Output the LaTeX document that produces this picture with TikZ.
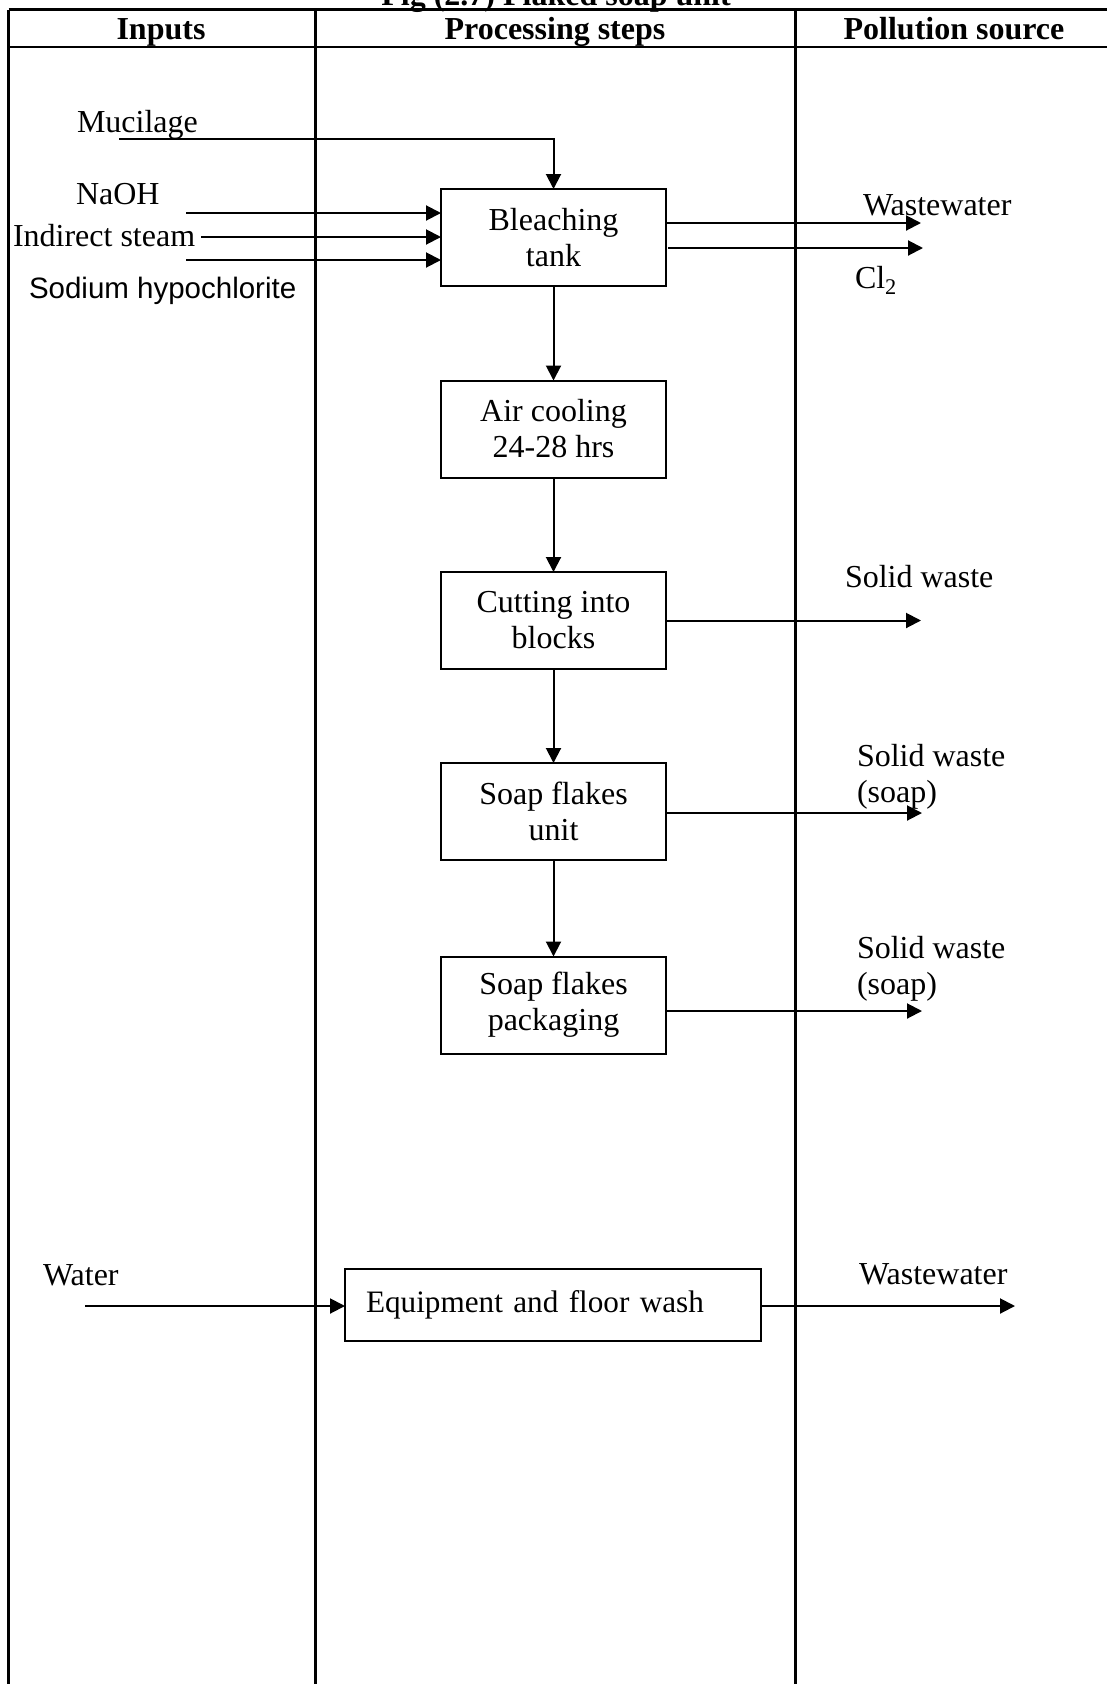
\documentclass[tikz,border=0pt]{standalone}
\usepackage{fontspec}
\setmainfont{Liberation Serif}
\newfontfamily\arialfont{Liberation Sans}
\usetikzlibrary{arrows.meta}
\begin{document}
\begin{tikzpicture}[x=1pt,y=-1pt,
  every node/.style={inner sep=0pt, outer sep=0pt},
  txt/.style={font=\fontsize{32}{36}\selectfont},
  hdr/.style={font=\fontsize{32}{36}\selectfont\bfseries},
  stepbox/.style={draw, line width=2pt, minimum width=225pt, minimum height=97pt,
    align=center, font=\fontsize{32}{36}\selectfont},
  flow/.style={line width=2pt, -{Triangle[length=15pt,width=15pt]}},
  rule/.style={line width=2.3pt}]
\useasboundingbox (0,0) rectangle (1107,1684);

% table frame: header band and three columns
\draw[rule] (8.5,9.5) -- (1130,9.5);
\draw[rule] (8.5,47) -- (1130,47);
\draw[rule] (8.5,9.5) -- (8.5,1700);
\draw[rule] (315.5,9.5) -- (315.5,1700);
\draw[rule] (795.5,9.5) -- (795.5,1700);

% caption and column headings
\node[hdr, anchor=base] (title) at (556,5) {Fig (2.7) Flaked soap unit};
\node[hdr, anchor=base] (hin) at (161,39) {Inputs};
\node[hdr, anchor=base] (hproc) at (555,39) {Processing steps};
\node[hdr, anchor=base] (hpol) at (954,39) {Pollution source};

% processing steps
\node[stepbox] (bleach) at (553.5,237.5) {Bleaching\\tank};
\node[stepbox] (cool) at (553.5,429) {Air cooling\\24-28 hrs};
\node[stepbox] (cut) at (553.5,620.5) {Cutting into\\blocks};
\node[stepbox] (flakes) at (553.5,811.5) {Soap flakes\\unit};
\node[stepbox] (pack) at (553.5,1005) {Soap flakes\\packaging};
\node[draw, line width=2pt, anchor=west, minimum height=72pt, text width=374pt,
  inner xsep=21pt, align=left, font=\fontsize{31.2}{36}\selectfont]
  (wash) at (345,1305) {Equipment and floor wash};

% input labels
\node[txt, anchor=base west] (lmuc) at (77,132) {Mucilage};
\node[txt, anchor=base west] (lnaoh) at (76,204) {NaOH};
\node[txt, anchor=base west] (lsteam) at (13,246) {Indirect steam};
\node[anchor=base west, font=\fontsize{29.5}{34}\selectfont\arialfont] (lhypo) at (29,298) {Sodium hypochlorite};
\node[txt, anchor=base west] (lwater) at (43,1285) {Water};

% pollution labels
\node[txt, anchor=base west] (lww1) at (863,215) {Wastewater};
\node[txt, anchor=base west] (lcl) at (855,288) {Cl\textsubscript{2}};
\node[txt, anchor=base west] (lsw1) at (845,587) {Solid waste};
\node[txt, anchor=north west, align=left] (lsw2) at (857,744) {Solid waste\\(soap)};
\node[txt, anchor=north west, align=left] (lsw3) at (857,936) {Solid waste\\(soap)};
\node[txt, anchor=base west] (lww2) at (859,1284) {Wastewater};

% loose ends of the stream lines
\coordinate (muc) at (119,139);
\coordinate (naoh) at (186,213);
\coordinate (steam) at (201,237);
\coordinate (hypo) at (186,260);
\coordinate (water) at (85,1306);
\coordinate (ww1) at (921,223);
\coordinate (cl) at (923,248);
\coordinate (sw1) at (921,620.5);
\coordinate (sw2) at (922,813);
\coordinate (sw3) at (922,1011);
\coordinate (ww2) at (1015,1306);

% inputs
\draw[flow] (muc) -| (bleach.north);
\draw[flow] (naoh) -- (naoh -| bleach.west);
\draw[flow] (steam) -- (steam -| bleach.west);
\draw[flow] (hypo) -- (hypo -| bleach.west);
\draw[flow] (water) -- (water -| wash.west);

% main line
\draw[flow] (bleach) -- (cool);
\draw[flow] (cool) -- (cut);
\draw[flow] (cut) -- (flakes);
\draw[flow] (flakes) -- (pack);

% releases
\draw[flow] (bleach.east |- ww1) -- (ww1);
\draw[flow] ([xshift=2pt]bleach.east |- cl) -- (cl);
\draw[flow] (cut.east |- sw1) -- (sw1);
\draw[flow] (flakes.east |- sw2) -- (sw2);
\draw[flow] (pack.east |- sw3) -- (sw3);
\draw[flow] (wash.east |- ww2) -- (ww2);
\end{tikzpicture}
\end{document}
